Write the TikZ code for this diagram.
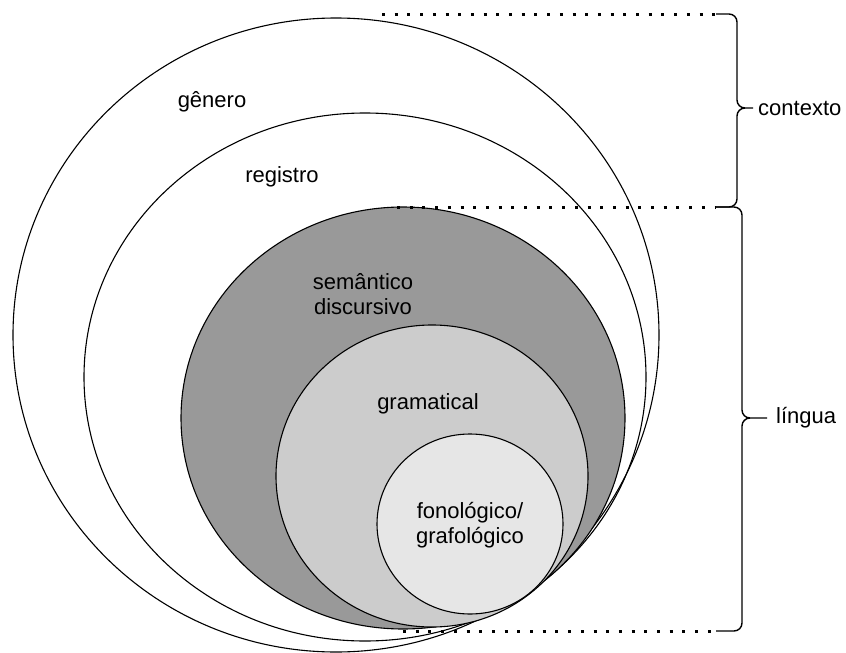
\documentclass[tikz,border=0pt]{standalone}
\usepackage{fontspec}
\setmainfont{Liberation Sans}
\usetikzlibrary{shapes.geometric,positioning}

\definecolor{semgray}{RGB}{153,153,153}
\definecolor{gramgray}{RGB}{204,204,204}
\definecolor{fongray}{RGB}{230,230,230}

\tikzset{
  layer/.style={ellipse, draw, line width=1.1pt, inner sep=0pt},
  lbl/.style={align=center, font=\fontsize{22}{25}\selectfont},
  guide/.style={line width=3pt, dash pattern=on 3pt off 9.7pt},
  bracket/.style={line width=1.4pt, rounded corners=8pt},
}

\begin{document}
\begin{tikzpicture}[x=1pt, y=-1pt]
  \useasboundingbox (0,0) rectangle (846,653);

  % strata, outer to inner
  \node[layer, minimum width=646pt, minimum height=634pt] (genero) at (336,335) {};
  \node[layer, minimum width=562pt, minimum height=528pt] (registro) at (365,377) {};
  \node[layer, fill=semgray, minimum width=444pt, minimum height=422pt] (semantico) at (403,418) {};
  \node[layer, fill=gramgray, minimum width=312pt, minimum height=302pt] (gramatical) at (432,476) {};
  \node[layer, fill=fongray, minimum width=186pt, minimum height=180pt] (fonologico) at (470,524) {};

  \node[lbl] (lgenero) at (212,102) {gênero};
  \node[lbl] (lregistro) at (282,177) {registro};
  \node[lbl] (lsemantico) at (363,294) {semântico\\discursivo};
  \node[lbl] (lgramatical) at (428,404) {gramatical};
  \node[lbl] (lfonologico) at (470,525) {fonológico/\\grafológico};

  % guide lines
  \coordinate (top) at (716,14);
  \coordinate (mid) at (716,207);
  \coordinate (bot) at (716,631);
  \draw[guide] (382,14) -- (top);
  \draw[guide] (397,207) -- (mid);
  \draw[guide] (403,631) -- (bot);

  % brackets
  \coordinate (ctxtip) at (753,108);
  \coordinate (lngtip) at (767,418);
  \draw[bracket] (top) -| (737,108) -- (ctxtip);
  \draw[bracket] (mid) -| (737,108) -- (745,108);
  \draw[bracket] (mid) -| (742,418) -- (lngtip);
  \draw[bracket] (bot) -| (742,418) -- (750,418);

  \node[lbl, right=5pt of ctxtip, inner sep=0pt] (contexto) {contexto};
  \node[lbl, right=9pt of lngtip, inner sep=0pt] (lingua) {língua};
\end{tikzpicture}
\end{document}
